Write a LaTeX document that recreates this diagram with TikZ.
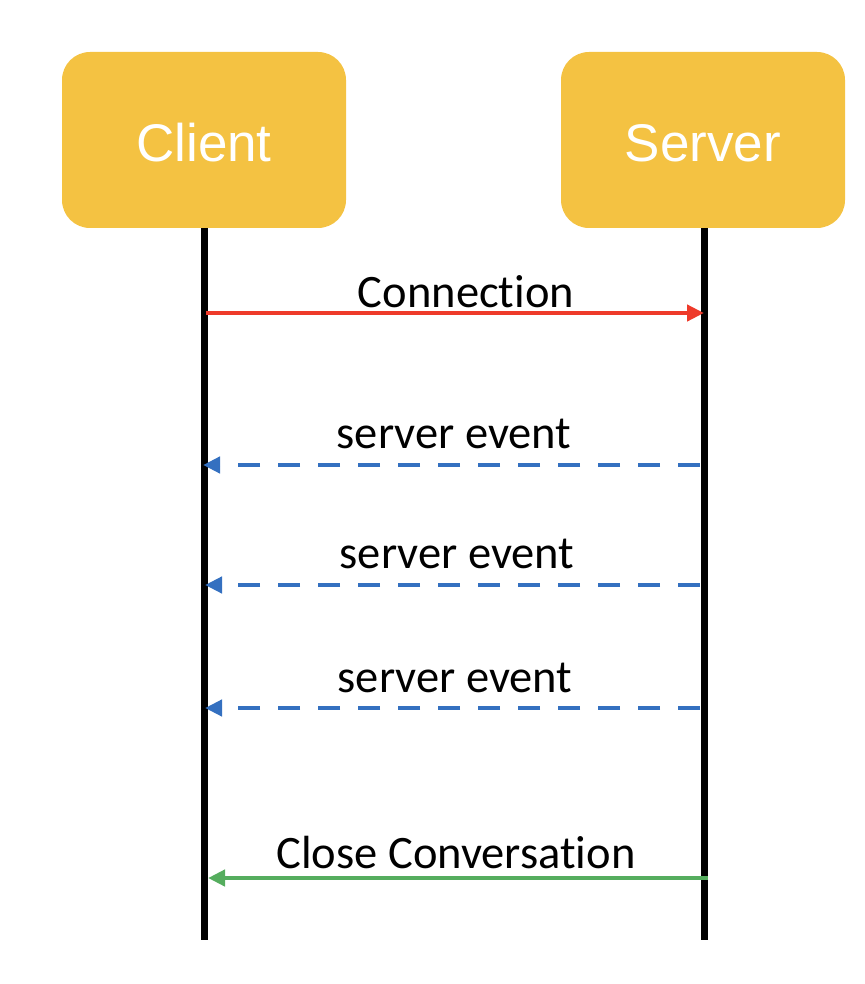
\documentclass[tikz,border=0pt]{standalone}
\usepackage{fontspec}
\setmainfont[Ligatures=NoCommon]{Carlito}
\newfontfamily\boxfont{Liberation Sans}
\usetikzlibrary{arrows.meta}
\definecolor{boxyellow}{HTML}{F4C242}
\definecolor{connred}{HTML}{EE3A2A}
\definecolor{evblue}{HTML}{3470C0}
\definecolor{closegreen}{HTML}{55AD5E}
\tikzset{
  actorbox/.style={fill=boxyellow, draw=none, rounded corners=28pt, minimum width=284pt, minimum height=176pt, inner sep=0pt, text=white, font=\boxfont\fontsize{53}{60}\selectfont},
  lifeline/.style={line width=7pt, black},
  msg/.style={line width=4.5pt, -{Triangle[length=17pt,width=16pt]}},
  msglabel/.style={anchor=base, inner sep=0pt, font=\fontsize{46.5}{52}\selectfont},
}
\begin{document}
\begin{tikzpicture}[x=1pt,y=-1pt]
\useasboundingbox (0,0) rectangle (864,984);
\node[actorbox] (client) at (204,140) {\raisebox{-3pt}[\height][\depth]{Client}};
\node[actorbox] (server) at (703,140) {\raisebox{-3pt}[\height][\depth]{Server}};
\coordinate (cend) at (204,940);
\coordinate (send) at (704,940);
\draw[lifeline] (204,228) -- (cend);
\draw[lifeline] (704,228) -- (send);
% message end points
\coordinate (c1) at (206,313); \coordinate (s1) at (704,313);
\coordinate (c2) at (203,465); \coordinate (s2) at (700,465);
\coordinate (c3) at (205,585); \coordinate (s3) at (700,585);
\coordinate (c4) at (205,708); \coordinate (s4) at (700,708);
\coordinate (c5) at (208,878); \coordinate (s5) at (708,878);
\draw[msg, connred] (c1) -- (s1);
\draw[msg, evblue, dash pattern=on 22pt off 18pt] (s2) -- (c2);
\draw[msg, evblue, dash pattern=on 22pt off 18pt] (s3) -- (c3);
\draw[msg, evblue, dash pattern=on 22pt off 18pt] (s4) -- (c4);
\draw[msg, closegreen] (s5) -- (c5);
\node[msglabel] (l1) at (466,307) {Connection};
\node[msglabel] (l2) at (454,448) {server event};
\node[msglabel] (l3) at (457,568) {server event};
\node[msglabel] (l4) at (455,692) {server event};
\node[msglabel] (l5) at (456,868) {Close Conversation};
\end{tikzpicture}
\end{document}
